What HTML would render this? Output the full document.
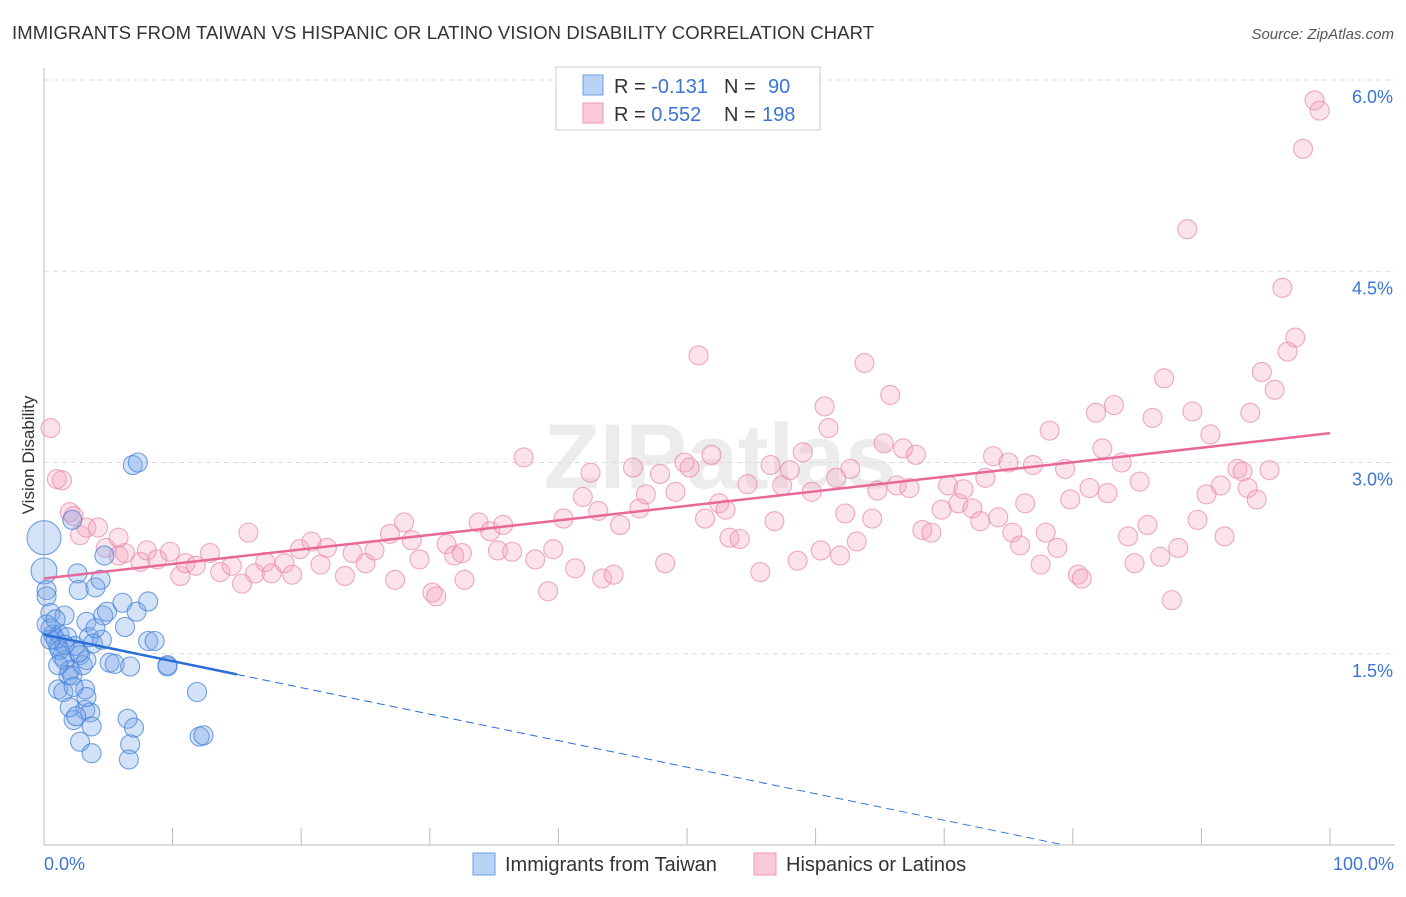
<!DOCTYPE html>
<html><head><meta charset="utf-8"><style>
body{margin:0;background:#fff;font-family:"Liberation Sans",sans-serif}
svg text{font-family:"Liberation Sans",sans-serif}
</style></head><body>
<svg id="c" width="1406" height="892" xmlns="http://www.w3.org/2000/svg">
<text x="12" y="39" font-size="18.5" fill="#333" textLength="862">IMMIGRANTS FROM TAIWAN VS HISPANIC OR LATINO VISION DISABILITY CORRELATION CHART</text>
<text x="1394" y="39" font-size="15" fill="#555" font-style="italic" text-anchor="end">Source: ZipAtlas.com</text>
<text x="720" y="488" font-size="92" fill="#ececec" text-anchor="middle" font-weight="bold">ZIPatlas</text>
<g id="grid"></g><g id="axes"></g><g id="pts"></g><g id="lines"></g>
<text transform="translate(34,455) rotate(-90)" font-size="17" fill="#333" text-anchor="middle">Vision Disability</text>
<text x="44" y="870" font-size="18" fill="#3b74d4">0.0%</text>
<text x="1394" y="870" font-size="18" fill="#3b74d4" text-anchor="end">100.0%</text>
<g>
<rect x="556" y="67" width="264" height="63" fill="#fff" stroke="#ccc"/>
<rect x="583" y="75" width="20" height="20" fill="#b9d3f5" stroke="#6a9ee6"/>
<rect x="583" y="103" width="20" height="20" fill="#f9c9d8" stroke="#ee9ab5"/>
<text x="614" y="93" font-size="20" fill="#333">R = <tspan fill="#3b74d4">-0.131</tspan><tspan x="724">N = </tspan><tspan fill="#3b74d4" x="768">90</tspan></text>
<text x="614" y="121" font-size="20" fill="#333">R = <tspan fill="#3b74d4"> 0.552</tspan><tspan x="724">N = </tspan><tspan fill="#3b74d4" x="762">198</tspan></text>
</g>
<g>
<rect x="473" y="853" width="22" height="22" fill="#b9d3f5" stroke="#6a9ee6"/>
<text x="505" y="871" font-size="20" fill="#333">Immigrants from Taiwan</text>
<rect x="754" y="853" width="22" height="22" fill="#f9c9d8" stroke="#ee9ab5"/>
<text x="786" y="871" font-size="20" fill="#333">Hispanics or Latinos</text>
</g>
</svg>
<script>
const yTicks=[1.5,3.0,4.5,6.0];
const yTickLabels=["1.5%","3.0%","4.5%","6.0%"];
const xTicks=[0,10,20,30,40,50,60,70,80,90,100];
const pinkX=[0.5,1.0,1.4,2.0,2.3,2.8,3.3,4.2,4.8,5.8,5.8,6.3,7.5,8.0,8.8,9.8,10.6,11.0,11.8,12.9,13.7,14.6,15.4,15.9,16.4,17.2,17.7,18.7,19.3,19.9,20.8,21.5,22.0,23.4,24.0,25.0,25.7,26.9,27.3,28.0,28.6,29.2,30.2,30.5,31.3,31.9,32.5,32.7,33.8,34.7,35.3,35.7,36.4,37.3,38.2,39.2,39.6,40.4,41.3,41.9,42.5,43.1,43.4,44.3,44.8,45.8,46.3,46.8,47.9,48.3,49.1,49.8,50.2,50.9,51.4,51.9,52.5,53.0,53.3,54.1,54.7,55.7,56.5,56.8,57.4,58.0,58.6,59.0,59.7,60.4,60.7,61.0,61.6,61.9,62.3,62.7,63.2,63.8,64.4,64.8,65.3,65.8,66.3,66.8,67.3,67.8,68.3,69.0,69.8,70.3,71.1,71.5,72.2,72.8,73.2,73.8,74.2,75.0,75.3,75.9,76.3,76.9,77.5,77.9,78.2,78.8,79.4,79.8,80.4,80.7,81.3,81.8,82.3,82.7,83.2,83.8,84.3,84.8,85.2,85.8,86.2,86.8,87.1,87.7,88.2,88.9,89.3,89.7,90.4,90.7,91.5,91.8,92.8,93.2,93.6,93.8,94.3,94.7,95.3,95.7,96.3,96.7,97.3,97.9,98.8,99.2];
const pinkY=[3.27,2.87,2.86,2.61,2.58,2.43,2.49,2.49,2.33,2.41,2.27,2.29,2.22,2.31,2.24,2.30,2.11,2.21,2.19,2.29,2.14,2.19,2.05,2.45,2.13,2.22,2.13,2.21,2.12,2.32,2.38,2.20,2.33,2.11,2.29,2.21,2.31,2.44,2.08,2.53,2.39,2.24,1.98,1.95,2.36,2.27,2.29,2.08,2.53,2.46,2.31,2.51,2.30,3.04,2.24,1.99,2.32,2.56,2.17,2.73,2.92,2.62,2.09,2.12,2.51,2.96,2.64,2.75,2.91,2.21,2.77,3.00,2.96,3.84,2.56,3.06,2.68,2.63,2.41,2.40,2.83,2.14,2.98,2.54,2.82,2.94,2.23,3.08,2.77,2.31,3.44,3.27,2.88,2.27,2.60,2.95,2.38,3.78,2.56,2.78,3.15,3.53,2.82,3.11,2.80,3.06,2.47,2.45,2.63,2.82,2.68,2.79,2.64,2.54,2.88,3.05,2.57,3.00,2.45,2.35,2.68,2.98,2.20,2.45,3.25,2.33,2.95,2.71,2.12,2.09,2.80,3.39,3.11,2.76,3.45,3.00,2.42,2.21,2.85,2.51,3.35,2.26,3.66,1.92,2.33,4.83,3.40,2.55,2.75,3.22,2.82,2.42,2.95,2.93,2.80,3.39,2.71,3.71,2.94,3.57,4.37,3.87,3.98,5.46,5.84,5.76];
const blueX=[0,0,0.2,0.2,0.5,0.5,0.7,0.9,1.1,1.2,1.4,1.6,1.1,1.6,1.8,2.0,2.2,2.4,2.6,2.7,2.8,3.0,3.2,3.2,2.3,2.8,3.3,3.5,3.6,3.7,3.7,4.0,4.4,4.6,4.7,4.9,5.1,5.5,6.1,6.3,6.5,6.7,6.6,6.7,7.0,6.9,7.3,7.2,8.1,8.1,8.6,9.6,9.6,11.9,12.1,12.4,1.2,1.6,1.9,2.2,3.3,3.8,1.5,3.3,2.0,2.5,0.5,0.2,0.9,4.5,4.0,2.7,1.1,2.3];
const blueY=[2.41,2.15,2.0,1.95,1.82,1.70,1.65,1.61,1.56,1.65,1.48,1.45,1.22,1.80,1.63,1.37,2.55,1.56,2.13,2.00,1.49,1.41,1.22,1.06,0.98,0.81,1.75,1.63,1.04,0.93,0.72,2.02,2.08,1.80,2.27,1.83,1.43,1.42,1.90,1.71,0.99,0.79,0.67,1.40,0.92,2.98,3.00,1.83,1.91,1.60,1.60,1.41,1.40,1.20,0.85,0.86,1.53,1.57,1.33,1.33,1.45,1.58,1.20,1.16,1.08,1.01,1.61,1.73,1.77,1.61,1.70,1.51,1.41,1.24];
const blueR=[17,13];
const pinkTrend=[2.09,3.23];   // value at 0% and 100%
const blueTrend=[1.65,-0.0208]; // intercept, slope per %
const NS="http://www.w3.org/2000/svg";
const sx=v=>44+v*12.86, sy=v=>845-v*127.5;
function mk(t,a,p){const e=document.createElementNS(NS,t);for(const k in a)e.setAttribute(k,a[k]);p.appendChild(e);return e;}
const grid=document.getElementById('grid'),axes=document.getElementById('axes'),pts=document.getElementById('pts'),lines=document.getElementById('lines');
yTicks.forEach((t,i)=>{
 const l=mk('line',{x1:44,x2:1395,y1:sy(t),y2:sy(t),stroke:'#ddd','stroke-dasharray':'5,4'},grid);
 
 
 const tx=mk('text',{x:1393,y:sy(t)+23,'font-size':18,fill:'#3b74d4','text-anchor':'end'},grid);
 tx.textContent=yTickLabels[i];
 
 
});
const xa=mk('line',{x1:44,x2:1395,y1:845,y2:845,stroke:'#bbb'},axes);


const ya=mk('line',{x1:44,x2:44,y1:68,y2:845,stroke:'#bbb'},axes);


xTicks.forEach(t=>{const l=mk('line',{x1:sx(t),x2:sx(t),y1:828,y2:845,stroke:'#bbb'},axes);
 
 });
pinkX.forEach((x,i)=>{const c=mk('circle',{cx:sx(x),cy:sy(pinkY[i]),r:9.5,fill:'rgba(244,165,192,0.32)',stroke:'rgba(232,135,168,0.7)','stroke-width':1.1},pts);
 
 });
blueX.forEach((x,i)=>{const c=mk('circle',{cx:sx(x),cy:sy(blueY[i]),r:blueR[i]||9.5,fill:'rgba(120,165,232,0.32)',stroke:'rgba(65,130,218,0.75)','stroke-width':1.1},pts);
 
 });
const pl=mk('line',{x1:sx(0),y1:sy(pinkTrend[0]),x2:sx(100),y2:sy(pinkTrend[1]),stroke:'#e8689a','stroke-width':2.5},lines);


const bEnd=15, bZero=-blueTrend[0]/blueTrend[1];
const bl=mk('line',{x1:sx(0),y1:sy(blueTrend[0]),x2:sx(bEnd),y2:sy(blueTrend[0]+blueTrend[1]*bEnd),stroke:'#2a6fd6','stroke-width':2.5},lines);


const bd=mk('line',{x1:sx(bEnd),y1:sy(blueTrend[0]+blueTrend[1]*bEnd),x2:sx(bZero),y2:sy(0),stroke:'#2a6fd6','stroke-width':1,'stroke-dasharray':'8,5'},lines);


</script>
</body></html>
